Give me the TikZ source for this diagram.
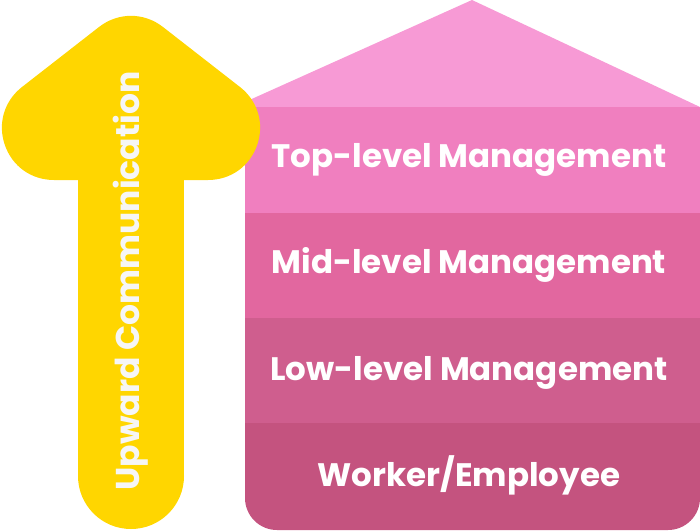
\documentclass[tikz,border=0pt]{standalone}
\usepackage{fontspec}
\setmainfont{Poppins}
\definecolor{arrowyellow}{HTML}{FFD600}
\definecolor{roofpink}{HTML}{F79AD5}
\definecolor{toppink}{HTML}{F07FBF}
\definecolor{midpink}{HTML}{E2679F}
\definecolor{lowpink}{HTML}{CF5E8E}
\definecolor{workerpink}{HTML}{C4537F}
\definecolor{labelwhite}{HTML}{F6F6F6}
\tikzset{
  levellabel/.style={text=white, font=\fontsize{32.5}{32.5}\selectfont\bfseries, inner sep=0pt},
  arrowlabel/.style={text=labelwhite, font=\fontsize{33}{33}\selectfont\bfseries, inner sep=0pt, rotate=90}
}
\begin{document}
\begin{tikzpicture}[x=1pt,y=-1pt]

\def\HOUSELEFT{245}
\def\HOUSERIGHT{700}
	\useasboundingbox (0,0) rectangle (700,530);
	% house
	\fill[roofpink] (\HOUSELEFT,108) -- (\HOUSELEFT,102) -- (472,0) -- (\HOUSERIGHT,107) -- (\HOUSERIGHT,108) -- cycle;
	\fill[toppink] (\HOUSELEFT,107) rectangle (\HOUSERIGHT,213);
	\fill[midpink] (\HOUSELEFT,213) rectangle (\HOUSERIGHT,318);
	\fill[lowpink] (\HOUSELEFT,318) rectangle (\HOUSERIGHT,423);
	\fill[workerpink] (\HOUSERIGHT,423) -- (\HOUSELEFT,423) [rounded corners=32pt] -- (\HOUSELEFT,530) -- (\HOUSERIGHT,530) [sharp corners] -- (\HOUSERIGHT,423) -- cycle;

	% arrow
	\fill[arrowyellow] (78,150) rectangle (184,476);
	\fill[arrowyellow] (131,476) circle (53pt);
	\filldraw[arrowyellow, line width=104pt, line join=round] (131,68) -- (208,128) -- (54,128) -- cycle;

	\node[levellabel] (top) at (469,160) {Top-level Management};
	\node[levellabel] (mid) at (469,265) {Mid-level Management};
	\node[levellabel] (low) at (469,373) {Low-level Management};
	\node[levellabel] (worker) at (469,475) {Worker/Employee};
	\node[arrowlabel] (upward) at (131,281) {Upward Communication};

\end{tikzpicture}
\end{document}
